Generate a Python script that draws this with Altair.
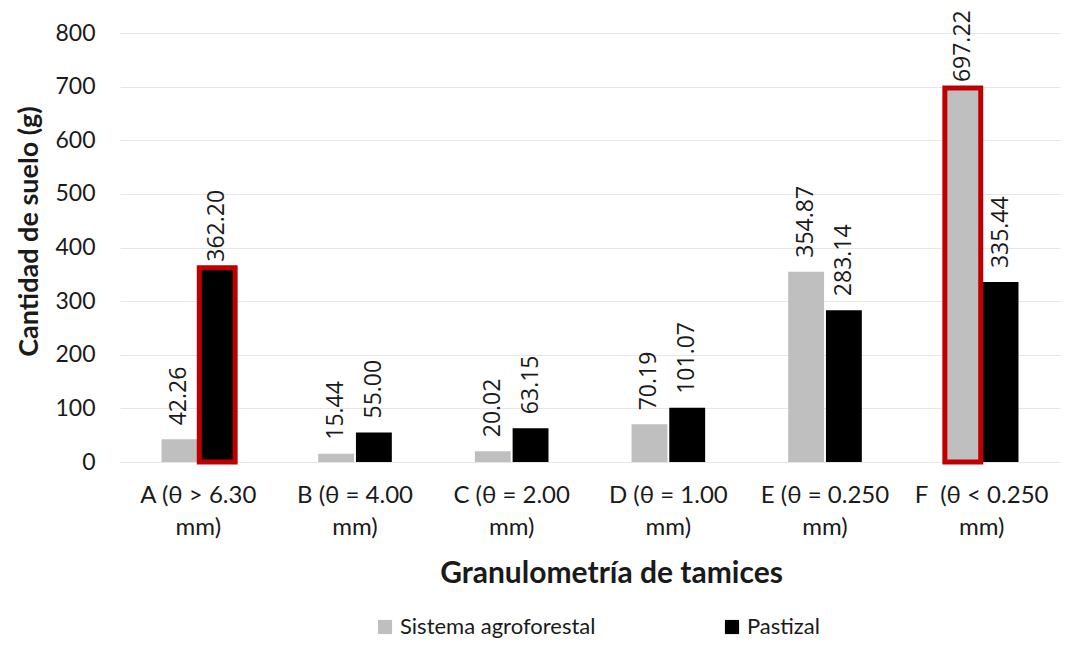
import altair as alt
import pandas as pd

categories = ["A (θ > 6.30\nmm)", "B (θ = 4.00\nmm)", "C (θ = 2.00\nmm)",
              "D (θ = 1.00\nmm)", "E (θ = 0.250\nmm)", "F\u00a0 (θ < 0.250\nmm)"]
series = ["Sistema agroforestal", "Pastizal"]
agro = [42.26, 15.44, 20.02, 70.19, 354.87, 697.22]
past = [362.20, 55.00, 63.15, 101.07, 283.14, 335.44]
highlighted = [(0, "Pastizal"), (5, "Sistema agroforestal")]

rows = []
for i, c in enumerate(categories):
    for s, vals in zip(series, [agro, past]):
        rows.append({"cat": c, "serie": s, "value": vals[i],
                     "label": f"{vals[i]:.2f}",
                     "hl": (i, s) in highlighted})
df = pd.DataFrame(rows)

x = alt.X("cat:N", sort=categories,
          scale=alt.Scale(paddingInner=0.53, paddingOuter=0.265),
          axis=alt.Axis(title="Granulometría de tamices",
                        labelExpr="split(datum.label, '\\n')",
                        labelAngle=0, labelFont="Lato", labelFontSize=24,
                        labelColor="#1a1a1a", labelPadding=21,
                        labelLineHeight=32, labelBaseline="top",
                        domain=False, ticks=False, grid=False,
                        titleFont="Lato", titleFontSize=30, titleFontWeight="bold",
                        titleColor="#1a1a1a", titleX=491, titleY=111,
                        titleBaseline="middle", titleAlign="center"))
xo = alt.XOffset("serie:N", sort=series, scale=alt.Scale(paddingInner=0.05))
y = alt.Y("value:Q",
          scale=alt.Scale(domain=[0, 800], nice=False),
          axis=alt.Axis(title="Cantidad de suelo (g)", values=list(range(0, 801, 100)),
                        labelFont="Lato", labelFontSize=23, labelColor="#1a1a1a",
                        labelPadding=25, domain=False, ticks=False,
                        gridColor="#E6E6E6", gridWidth=1,
                        titleFont="Lato", titleFontSize=27, titleFontWeight="bold",
                        titleColor="#1a1a1a", titleX=-91, titleY=198,
                        titleAngle=270, titleBaseline="middle", titleAlign="center"))

bars = alt.Chart(df).mark_bar().encode(
    x=x, xOffset=xo, y=y,
    color=alt.Color("serie:N", sort=series,
                    scale=alt.Scale(domain=series, range=["#BFBFBF", "#000000"]),
                    legend=alt.Legend(title=None, orient="none", direction="horizontal",
                                      legendX=254, legendY=583,
                                      symbolType="square", symbolSize=200,
                                      symbolStrokeWidth=0, labelLimit=0,
                                      labelFont="Lato", labelFontSize=22,
                                      labelColor="#1a1a1a", columnPadding=125,
                                      labelOffset=4))
)

outline = alt.Chart(df).transform_filter("datum.hl").mark_bar(
    fill="transparent", stroke="#C00000", strokeWidth=5
).encode(x=x, xOffset=xo, y=y)

labels = alt.Chart(df).transform_filter("!datum.hl").mark_text(
    angle=270, align="left", baseline="middle", dx=14,
    font="Open Sans", fontSize=23, color="#1a1a1a"
).encode(x=x, xOffset=xo, y=y, text="label:N")

labels_hl = alt.Chart(df).transform_filter("datum.hl").mark_text(
    angle=270, align="left", baseline="middle", dx=6,
    font="Open Sans", fontSize=23, color="#1a1a1a"
).encode(x=x, xOffset=xo, y=y, text="label:N")

chart = alt.layer(bars, outline, labels, labels_hl).properties(
    width=940, height=429,
    autosize=alt.AutoSizeParams(type="none"),
    padding={"left": 112, "top": 25, "right": 1, "bottom": 179}
).configure_view(stroke=None)

chart.save("out.html", embed_options={"renderer": "svg", "actions": False})
